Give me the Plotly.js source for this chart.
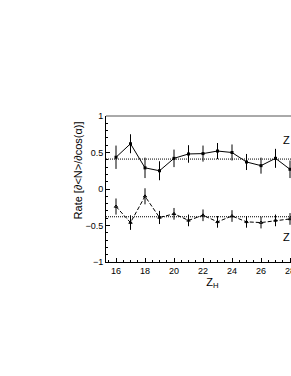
<!DOCTYPE html>
<html><head><meta charset="utf-8">
<script src="https://cdn.plot.ly/plotly-3.0.1.min.js"></script>
<style>html,body{margin:0;padding:0;overflow:hidden;background:#fff;width:291px;height:376px}</style>
</head><body>
<div id="chart" style="width:420px;height:376px"></div>
<script>
const zH = [16,17,18,19,20,21,22,23,24,25,26,27,28];
const upperRate = [0.435,0.62,0.29,0.25,0.42,0.48,0.485,0.52,0.50,0.37,0.32,0.42,0.27];
const upperErr  = [0.16,0.13,0.14,0.13,0.12,0.12,0.11,0.11,0.11,0.11,0.11,0.13,0.12];
const lowerRate = [-0.24,-0.46,-0.10,-0.39,-0.34,-0.43,-0.36,-0.45,-0.37,-0.45,-0.46,-0.43,-0.41];
const lowerErr  = [0.11,0.10,0.11,0.09,0.08,0.08,0.08,0.08,0.08,0.08,0.08,0.08,0.08];
const meanLines = [0.41,-0.38];
const seriesLabels = ['Z','Z'];
const labelPos = [[27.38,0.67],[27.38,-0.66]];
const yTitle = 'Rate [<i>∂</i>&lt;N&gt;/<i>∂</i>cos(α)]';

const font = {family:'Liberation Sans, Arial, sans-serif', color:'#000'};
const traces = [
  {x:zH, y:upperRate, type:'scatter', mode:'lines+markers',
   line:{color:'#000', width:1}, marker:{symbol:'square', size:3, color:'#000'},
   error_y:{type:'data', array:upperErr, color:'#000', thickness:1, width:0}},
  {x:zH, y:lowerRate, type:'scatter', mode:'lines+markers',
   line:{color:'#000', width:1, dash:'4px,2px'}, marker:{symbol:'triangle-up-open', size:3, color:'#000', line:{width:1,color:'#000'}},
   error_y:{type:'data', array:lowerErr, color:'#000', thickness:1, width:0}}
];
const shapes = meanLines.map(v => ({type:'line', xref:'paper', x0:0, x1:1, yref:'y', y0:v, y1:v,
  line:{color:'#000', width:1, dash:'1px,1px'}}));
shapes.push({type:'line', xref:'paper', yref:'paper', x0:0, x1:1, y0:1, y1:1, line:{color:'#555', width:1}});
const annotations = seriesLabels.map((t,i) => ({x:labelPos[i][0], y:labelPos[i][1], text:t, showarrow:false,
  xanchor:'left', yanchor:'middle', font:Object.assign({size:11}, font)}));
annotations.push({xref:'paper', x:-0.133, y:0.25, yref:'y', text:yTitle, textangle:-90, showarrow:false,
  xanchor:'center', yanchor:'middle', font:Object.assign({size:11}, font)});
const layout = {
  width:420, height:376,
  margin:{l:106, r:101, t:116, b:114},
  paper_bgcolor:'#fff', plot_bgcolor:'#fff',
  showlegend:false,
  font:Object.assign({size:8}, font),
  xaxis:{range:[15.31,30], tickvals:[16,18,20,22,24,26,28], ticks:'inside', ticklen:4,
    tickcolor:'#000', showgrid:false, zeroline:false, showline:true, linecolor:'#000', linewidth:1,
    minor:{ticks:'inside', dtick:0.5, tick0:16, ticklen:2, tickcolor:'#000', showgrid:false},
    tickfont:Object.assign({size:9}, font),
    title:{text:'Z<sub>H</sub>', font:Object.assign({size:11}, font), standoff:1}},
  yaxis:{range:[-1,1], dtick:0.5, ticks:'inside', ticklen:4, tickcolor:'#000',
    showgrid:false, zeroline:false, showline:true, linecolor:'#000', linewidth:1,
    minor:{ticks:'inside', dtick:0.1, ticklen:2, tickcolor:'#000', showgrid:false},
    tickfont:Object.assign({size:9}, font)},
  shapes:shapes, annotations:annotations
};
Plotly.newPlot('chart', traces, layout, {staticPlot:true, displayModeBar:false});
</script>
</body></html>
